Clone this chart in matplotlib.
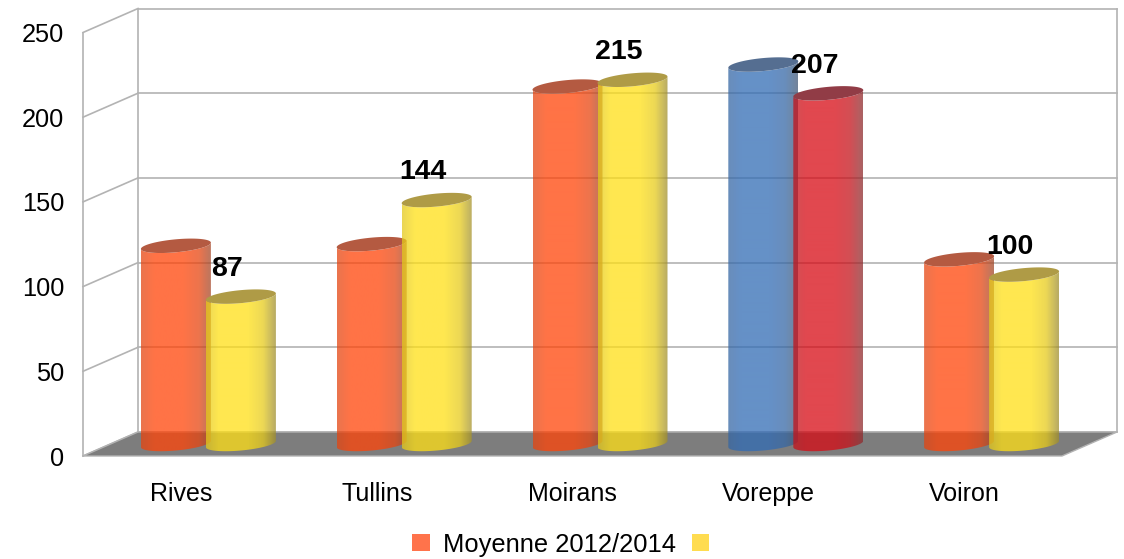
import numpy as np
import matplotlib
matplotlib.use('Agg')
import matplotlib.pyplot as plt
from matplotlib.patches import Patch, Polygon
from matplotlib.path import Path

plt.rcParams['font.family'] = ['Liberation Sans', 'DejaVu Sans']

# values
communes = ['Rives', 'Tullins', 'Moirans', 'Voreppe', 'Voiron']
moyenne = [117, 118, 211, 224, 109]
actuel = [87, 144, 215, 207, 100]
y_ticks = [0, 50, 100, 150, 200, 250]

# body colours before transparency, one per bar
moyenne_colors = ['#ff4408', '#ff4408', '#ff4408', '#326cb5', '#ff4408']
actuel_colors = ['#ffe015', '#ffe015', '#ffe015', '#d70a14', '#ffe015']
# lids
moyenne_tops = ['#b45a41', '#b45a41', '#b45a41', '#556e91', '#b45a41']
actuel_tops = ['#af9b46', '#af9b46', '#af9b46', '#913c46', '#af9b46']

GRID = '#b3b3b3'
FLOOR = '#7d7d7d'

W, H = 1124, 559
fig = plt.figure(figsize=(W / 100, H / 100), dpi=100)
ax = fig.add_axes([83 / W, (H - 456) / H, 979 / W, 423.5 / H])
ax.patch.set_alpha(0)

px_x = 979 / 5
px_y = 423.5 / 250
# depth of the fake 3d box, in data units
dx = 55 / px_x
dy = 24 / px_y


def draw_box():
    for v in y_ticks:
        ax.plot([dx, 5 + dx], [v + dy, v + dy], color=GRID, lw=1.2, clip_on=False, zorder=1)
        ax.plot([0, dx], [v, v + dy], color=GRID, lw=1.2, clip_on=False, zorder=1)
    ax.plot([0, 0], [0, 250], color=GRID, lw=1.2, clip_on=False, zorder=1)
    ax.plot([dx, dx], [dy, 250 + dy], color=GRID, lw=1.2, clip_on=False, zorder=1)
    ax.plot([5 + dx, 5 + dx], [dy, 250 + dy], color=GRID, lw=1.2, clip_on=False, zorder=1)
    floor = [(0, 0), (5, 0), (5 + dx, dy), (dx, dy)]
    ax.add_patch(Polygon(floor, closed=True, facecolor=FLOOR, edgecolor=GRID, lw=1.0,
                         clip_on=False, zorder=2))


def ellipse(cx, cy, t):
    # slightly tilted, the right side sits higher
    ex = 35 * np.cos(t)
    ey = 6.5 * np.sin(t) + 0.09 * ex
    return cx + ex / px_x, cy + ey / px_y


def cylinder(cx, value, color, top_color, z):
    base = dy / 2
    t_low = np.linspace(np.pi, 2 * np.pi, 60)
    bx, by = ellipse(cx, base, t_low)
    tx, ty = ellipse(cx, base + value, t_low[::-1])
    outline = np.column_stack([np.r_[bx, tx], np.r_[by, ty]])

    # horizontal shading, same alpha all the way across
    rgb = np.array(matplotlib.colors.to_rgb(color))
    shade = np.array([0.32, 0.30, 0.28])
    u = np.linspace(0, 1, 140)
    t = np.interp(u, [0, 0.18, 0.6, 0.82, 1], [0.16, 0.0, 0.0, 0.14, 0.55])
    grad = np.zeros((1, 140, 4))
    grad[0, :, :3] = rgb * (1 - t[:, None]) + shade * t[:, None]
    grad[0, :, 3] = 0.75
    half = 35 / px_x
    im = ax.imshow(grad, extent=[cx - half, cx + half, -5, 260], aspect='auto',
                   interpolation='bilinear', zorder=z)
    im.set_clip_path(Path(outline), ax.transData)

    lid_t = np.linspace(0, 2 * np.pi, 80)
    lx, ly = ellipse(cx, base + value, lid_t)
    ax.add_patch(Polygon(np.column_stack([lx, ly]), closed=True, facecolor=top_color,
                         edgecolor='none', zorder=z + 0.1))


draw_box()

for i in range(len(communes)):
    center = i + 0.5 + dx / 2
    left = center - 32.5 / px_x
    right = center + 32.5 / px_x
    cylinder(left, moyenne[i], moyenne_colors[i], moyenne_tops[i], 3 + i)
    cylinder(right, actuel[i], actuel_colors[i], actuel_tops[i], 3.5 + i)
    ax.annotate(str(actuel[i]), (right, actuel[i] + dy / 2), xytext=(-10, 20),
                textcoords='offset points', ha='center', va='center', fontsize=20.5,
                fontweight='bold', color='black', zorder=20, annotation_clip=False)

ax.set_xlim(0, 5)
ax.set_ylim(0, 250)
ax.set_xticks([i + 0.5 for i in range(5)])
ax.set_xticklabels(communes)
ax.set_yticks(y_ticks)
for s in ax.spines.values():
    s.set_visible(False)
ax.tick_params(axis='x', length=0, pad=18.5, labelsize=18)
ax.tick_params(axis='y', length=0, pad=13.5, labelsize=18.3)

handles = [Patch(facecolor='#ff734b', edgecolor='none'), Patch(facecolor='#ffdc50', edgecolor='none')]
fig.legend(handles, ['Moyenne 2012/2014', ''], ncols=2, frameon=False, fontsize=18.4,
           loc='lower left', bbox_to_anchor=(392 / W, -18 / H), handlelength=0.68,
           handleheight=0.68, handletextpad=0.52, columnspacing=0.62, borderpad=0.3)

fig.savefig('out.png', dpi=100)
